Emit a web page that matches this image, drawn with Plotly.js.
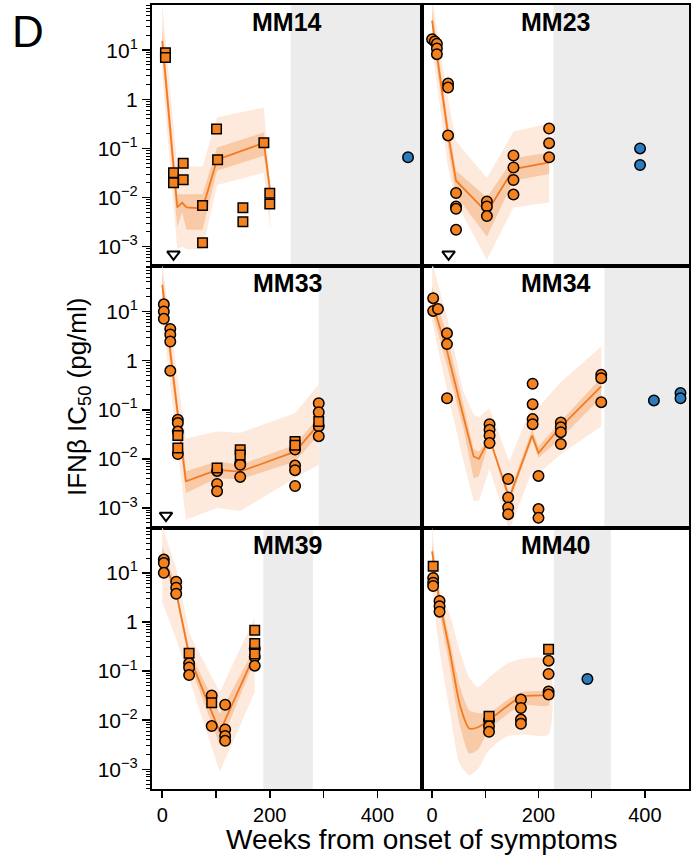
<!DOCTYPE html>
<html>
<head>
<meta charset="utf-8">
<script src="https://cdn.plot.ly/plotly-3.0.1.min.js"></script>
<style>html,body{margin:0;padding:0;background:#fff;}</style>
</head>
<body>
<div id="chart" style="width:693px;height:855px;"></div>
<script>
// IFN-beta IC50 over time, one panel per patient, log scale.
const patients = ['MM14', 'MM23', 'MM33', 'MM34', 'MM39', 'MM40'];

// ---- MM14 ----
const mm14CircleWeeks = [];
const mm14CircleIC50 = [];
const mm14SquareWeeks = [6, 6, 21, 21, 39, 39, 75, 75, 101, 103, 150, 150, 189, 200, 200];
const mm14SquareIC50 = [8.9, 7.1, 0.032, 0.020, 0.050, 0.023, 0.0069, 0.0012, 0.25, 0.059, 0.0062, 0.0032, 0.13, 0.0123, 0.0074];
const mm14LateWeeks = [457];
const mm14LateIC50 = [0.066];
const mm14FitWeeks = [0, 28, 37, 45, 75, 102, 189, 201];
const mm14FitMid = [15.5, 0.0063, 0.0079, 0.0063, 0.0060, 0.059, 0.13, 0.0126];
const mm14FitHi50 = [31.6, 0.0117, 0.0117, 0.0117, 0.0117, 0.105, 0.21, 0.0166];
const mm14FitLo50 = [7.9, 0.0025, 0.005, 0.0022, 0.0022, 0.035, 0.071, 0.0095];
const mm14FitHi95 = [89, 0.043, 0.043, 0.043, 0.043, 0.43, 0.68, 0.018];
const mm14FitLo95 = [3.2, 0.00089, 0.001, 0.00089, 0.00089, 0.018, 0.032, 0.0021];

// ---- MM23 ----
const mm23CircleWeeks = [0, 5, 9, 9, 9, 30, 30, 30, 45, 45, 45, 45, 103, 103, 103, 153, 153, 153, 153, 220, 220, 220];
const mm23CircleIC50 = [16.7, 15, 13.6, 10.8, 8.3, 2.1, 1.74, 0.184, 0.0124, 0.0066, 0.0059, 0.0022, 0.0083, 0.0066, 0.0042, 0.072, 0.041, 0.0228, 0.0115, 0.255, 0.128, 0.066];
const mm23SquareWeeks = [];
const mm23SquareIC50 = [];
const mm23LateWeeks = [391, 391];
const mm23LateIC50 = [0.1, 0.046];
const mm23FitWeeks = [0, 8, 30, 45, 103, 153, 220];
const mm23FitMid = [40, 9.7, 0.195, 0.022, 0.005, 0.038, 0.052];
const mm23FitHi50 = [71, 15.8, 0.32, 0.035, 0.01, 0.063, 0.083];
const mm23FitLo50 = [22, 6.3, 0.11, 0.011, 0.0016, 0.022, 0.03];
const mm23FitHi95 = [126, 32, 1.0, 0.14, 0.025, 0.22, 0.32];
const mm23FitLo95 = [10, 2.5, 0.04, 0.0079, 0.00054, 0.0063, 0.0079];

// ---- MM33 ----
const mm33CircleWeeks = [3, 3, 3, 15, 15, 15, 15, 29, 29, 29, 29, 102, 102, 102, 145, 145, 145, 247, 247, 247, 247, 291, 291, 291, 291];
const mm33CircleIC50 = [14, 10, 7.1, 4.4, 3.4, 2.45, 0.62, 0.0625, 0.054, 0.036, 0.0126, 0.0057, 0.0031, 0.0022, 0.0082, 0.0076, 0.0043, 0.0155, 0.0073, 0.0059, 0.0028, 0.136, 0.089, 0.046, 0.029];
const mm33SquareWeeks = [29, 29, 102, 145, 145, 247, 247, 291];
const mm33SquareIC50 = [0.030, 0.0166, 0.0065, 0.0153, 0.012, 0.0227, 0.019, 0.058];
const mm33LateWeeks = [];
const mm33LateIC50 = [];
const mm33FitWeeks = [0, 44, 102, 145, 247, 291];
const mm33FitMid = [35, 0.0035, 0.006, 0.0055, 0.014, 0.051];
const mm33FitHi50 = [63, 0.0056, 0.0089, 0.0076, 0.0195, 0.072];
const mm33FitLo50 = [20, 0.002, 0.0041, 0.0038, 0.0089, 0.031];
const mm33FitHi95 = [100, 0.026, 0.036, 0.034, 0.085, 0.33];
const mm33FitLo95 = [7.9, 0.00058, 0.001, 0.00087, 0.0041, 0.0076];

// ---- MM34 ----
const mm34CircleWeeks = [2, 2, 11, 28, 28, 28, 108, 108, 108, 108, 143, 143, 143, 143, 189, 189, 189, 189, 200, 200, 200, 242, 242, 242, 242, 318, 318, 318];
const mm34CircleIC50 = [18.7, 10.3, 11.2, 3.6, 2.17, 0.172, 0.051, 0.039, 0.030, 0.021, 0.0039, 0.00164, 0.00103, 0.00075, 0.338, 0.130, 0.0645, 0.051, 0.0045, 0.00095, 0.00063, 0.055, 0.044, 0.035, 0.020, 0.515, 0.44, 0.143];
const mm34SquareWeeks = [];
const mm34SquareIC50 = [];
const mm34LateWeeks = [417, 467, 467];
const mm34LateIC50 = [0.155, 0.22, 0.172];
const mm34FitWeeks = [0, 28, 58, 78, 88, 108, 145, 188, 200, 240, 318];
const mm34FitMid = [15.8, 1.58, 0.079, 0.0112, 0.01, 0.026, 0.0016, 0.03, 0.0132, 0.043, 0.3];
const mm34FitHi50 = [32, 3.2, 0.14, 0.0158, 0.0141, 0.028, 0.002, 0.04, 0.0178, 0.056, 0.45];
const mm34FitLo50 = [10, 0.79, 0.045, 0.004, 0.0045, 0.024, 0.00126, 0.024, 0.0105, 0.025, 0.178];
const mm34FitHi95 = [100, 7.9, 0.25, 0.079, 0.071, 0.107, 0.0089, 0.126, 0.112, 0.35, 1.95];
const mm34FitLo95 = [6.3, 0.25, 0.01, 0.0014, 0.0014, 0.0063, 0.00035, 0.0056, 0.005, 0.012, 0.046];

// ---- MM39 ----
const mm39CircleWeeks = [3, 3, 3, 26, 26, 26, 50, 50, 50, 92, 92, 117, 117, 117, 117, 172, 172, 172];
const mm39CircleIC50 = [18.6, 15.9, 10, 6.6, 5.0, 3.76, 0.144, 0.119, 0.083, 0.032, 0.0076, 0.0206, 0.0065, 0.0048, 0.0038, 0.29, 0.196, 0.129];
const mm39SquareWeeks = [50, 92, 172, 172, 172];
const mm39SquareIC50 = [0.23, 0.0226, 0.68, 0.365, 0.222];
const mm39LateWeeks = [];
const mm39LateIC50 = [];
const mm39FitWeeks = [0, 26, 51, 107, 172];
const mm39FitMid = [22, 4.0, 0.19, 0.0058, 0.22];
const mm39FitHi50 = [35, 5.2, 0.25, 0.0135, 0.3];
const mm39FitLo50 = [15.8, 3.2, 0.14, 0.0031, 0.166];
const mm39FitHi95 = [89, 12.6, 0.56, 0.037, 1.23];
const mm39FitLo95 = [2.5, 0.45, 0.063, 0.00089, 0.037];

// ---- MM40 ----
const mm40CircleWeeks = [2, 2, 2, 14, 14, 14, 107, 107, 107, 167, 167, 167, 167, 219, 219, 219, 219];
const mm40CircleIC50 = [7.9, 6.3, 5.4, 2.67, 2.1, 1.62, 0.010, 0.0075, 0.0058, 0.0264, 0.0177, 0.0103, 0.0085, 0.163, 0.0875, 0.0384, 0.0333];
const mm40SquareWeeks = [2, 107, 219];
const mm40SquareIC50 = [13.6, 0.012, 0.28];
const mm40LateWeeks = [292];
const mm40LateIC50 = [0.069];
const mm40FitWeeks = [0, 14, 33, 52, 70, 86, 107, 139, 167, 219];
const mm40FitMid = [27.5, 2.7, 0.26, 0.021, 0.0068, 0.0072, 0.01, 0.0186, 0.03, 0.032];
const mm40FitHi50 = [40, 4.0, 0.45, 0.05, 0.0158, 0.0141, 0.0141, 0.025, 0.037, 0.037];
const mm40FitLo50 = [15.8, 1.58, 0.126, 0.0079, 0.0021, 0.0025, 0.0063, 0.0126, 0.02, 0.02];
const mm40FitHi95 = [89, 4.3, 1.45, 0.26, 0.074, 0.047, 0.074, 0.138, 0.176, 0.176];
const mm40FitLo95 = [4.3, 0.26, 0.0158, 0.0013, 0.00076, 0.001, 0.00245, 0.0046, 0.0051, 0.0051];

// shaded intervals per panel (null end = to the right edge)
const shadeStartWeeks = [239, 228, 291, 324, 188, 229];
const shadeEndWeeks = [null, null, null, null, 280, 336];
// open triangles along the bottom of a panel
const markerWeeks = [21, 31, 7, null, null, null];

// axis ticks
const weekTickVals = [0, 200, 400];
const weekTickText = ['0', '200', '400'];
const ic50TickVals = [0.001, 0.01, 0.1, 1, 10];
const ic50TickText = ['10<sup>\u22123</sup>', '10<sup>\u22122</sup>', '10<sup>\u22121</sup>', '1', '10<sup>1</sup>'];

// ---- drawing ----
const FONT = 'Liberation Sans, Arial, Helvetica, sans-serif';
const ORANGE = '#f6821f';
const LINE = '#f47a1f';
const BAND50 = '#f9caa7';
const BAND95 = '#fdeadc';
const BLUE = '#2d7bbf';
const SHADE = '#ececec';
const X_RANGE = [-19, 483];
const Y_RANGE = [-3.4, 1.92];
const MARK_LEVEL = 0.0007;

const panelData = [
  [mm14CircleWeeks, mm14CircleIC50, mm14SquareWeeks, mm14SquareIC50, mm14LateWeeks, mm14LateIC50, mm14FitWeeks, mm14FitMid, mm14FitLo50, mm14FitHi50, mm14FitLo95, mm14FitHi95],
  [mm23CircleWeeks, mm23CircleIC50, mm23SquareWeeks, mm23SquareIC50, mm23LateWeeks, mm23LateIC50, mm23FitWeeks, mm23FitMid, mm23FitLo50, mm23FitHi50, mm23FitLo95, mm23FitHi95],
  [mm33CircleWeeks, mm33CircleIC50, mm33SquareWeeks, mm33SquareIC50, mm33LateWeeks, mm33LateIC50, mm33FitWeeks, mm33FitMid, mm33FitLo50, mm33FitHi50, mm33FitLo95, mm33FitHi95],
  [mm34CircleWeeks, mm34CircleIC50, mm34SquareWeeks, mm34SquareIC50, mm34LateWeeks, mm34LateIC50, mm34FitWeeks, mm34FitMid, mm34FitLo50, mm34FitHi50, mm34FitLo95, mm34FitHi95],
  [mm39CircleWeeks, mm39CircleIC50, mm39SquareWeeks, mm39SquareIC50, mm39LateWeeks, mm39LateIC50, mm39FitWeeks, mm39FitMid, mm39FitLo50, mm39FitHi50, mm39FitLo95, mm39FitHi95],
  [mm40CircleWeeks, mm40CircleIC50, mm40SquareWeeks, mm40SquareIC50, mm40LateWeeks, mm40LateIC50, mm40FitWeeks, mm40FitMid, mm40FitLo50, mm40FitHi50, mm40FitLo95, mm40FitHi95]
];
const smoothPanels = ['MM40'];

const traces = [];
const shapes = [];
const annotations = [];
const layout = {
  width: 693, height: 855,
  margin: {l: 152, r: 4, t: 5, b: 66},
  paper_bgcolor: '#fff', plot_bgcolor: 'rgba(0,0,0,0)',
  showlegend: false,
  font: {family: FONT, color: '#000', size: 21}
};

const colDomains = [[0, 0.5028], [0.5028, 1]];
const rowDomains = [[2 / 3, 1], [1 / 3, 2 / 3], [0, 1 / 3]];

function bandTrace(weeks, lo, hi, color, xa, ya, shape) {
  return {
    x: weeks.concat(weeks.slice().reverse()),
    y: hi.concat(lo.slice().reverse()),
    xaxis: xa, yaxis: ya,
    mode: 'lines', fill: 'toself', fillcolor: color,
    line: {width: 0, color: color, shape: shape, smoothing: 0.6},
    hoverinfo: 'skip'
  };
}

patients.forEach((name, i) => {
  const row = Math.floor(i / 2), col = i % 2;
  const sfx = i === 0 ? '' : String(i + 1);
  const xa = 'x' + sfx, ya = 'y' + sfx;
  const [cW, cV, sW, sV, lW, lV, fW, fMid, fLo50, fHi50, fLo95, fHi95] = panelData[i];
  const shape = smoothPanels.includes(name) ? 'spline' : 'linear';
  const bottom = row === 2;

  const xax = {
    domain: colDomains[col], anchor: ya, range: X_RANGE,
    showline: true, mirror: true, linewidth: 2, linecolor: '#000',
    showgrid: false, zeroline: false,
    showticklabels: bottom, ticks: bottom ? 'outside' : ''
  };
  if (bottom) {
    Object.assign(xax, {
      tickmode: 'array', tickvals: weekTickVals, ticktext: weekTickText,
      ticklen: 7, tickwidth: 1.5, tickcolor: '#000', tickfont: {size: 20, family: FONT},
      minor: {ticks: 'outside', ticklen: 7, tickwidth: 1.5, tickcolor: '#000', tick0: 0, dtick: 100, showgrid: false}
    });
  }
  layout['xaxis' + sfx] = xax;

  const yax = {
    domain: rowDomains[row], anchor: xa, type: 'log', range: Y_RANGE,
    showline: true, mirror: true, linewidth: 2, linecolor: '#000',
    showgrid: false, zeroline: false,
    showticklabels: col === 0, ticks: col === 0 ? 'outside' : ''
  };
  if (col === 0) {
    Object.assign(yax, {
      tickmode: 'array', tickvals: ic50TickVals, ticktext: ic50TickText,
      ticklen: 8, tickwidth: 1.5, tickcolor: '#000', tickfont: {size: 21, family: FONT},
      minor: {ticks: 'outside', ticklen: 4.5, tickwidth: 1, tickcolor: '#000', dtick: 'D1', showgrid: false}
    });
  }
  layout['yaxis' + sfx] = yax;

  // shaded interval
  shapes.push({
    type: 'rect', xref: xa, yref: ya + ' domain', layer: 'below',
    x0: shadeStartWeeks[i], x1: shadeEndWeeks[i] === null ? X_RANGE[1] : shadeEndWeeks[i],
    y0: 0, y1: 1, fillcolor: SHADE, line: {width: 0}
  });

  // fit with credible bands
  traces.push(bandTrace(fW, fLo95, fHi95, BAND95, xa, ya, shape));
  traces.push(bandTrace(fW, fLo50, fHi50, BAND50, xa, ya, shape));
  traces.push({x: fW, y: fMid, xaxis: xa, yaxis: ya, mode: 'lines',
    line: {color: LINE, width: 1.8, shape: shape, smoothing: 0.6}, hoverinfo: 'skip'});

  // measurements
  const mline = {color: '#000', width: 1.5};
  if (cW.length) traces.push({x: cW, y: cV, xaxis: xa, yaxis: ya, mode: 'markers',
    marker: {symbol: 'circle', size: 10.5, color: ORANGE, line: mline}});
  if (sW.length) traces.push({x: sW, y: sV, xaxis: xa, yaxis: ya, mode: 'markers',
    marker: {symbol: 'square', size: 9.5, color: ORANGE, line: mline}});
  if (lW.length) traces.push({x: lW, y: lV, xaxis: xa, yaxis: ya, mode: 'markers',
    marker: {symbol: 'circle', size: 10.5, color: BLUE, line: mline}});
  if (markerWeeks[i] !== null) traces.push({x: [markerWeeks[i]], y: [MARK_LEVEL], xaxis: xa, yaxis: ya,
    mode: 'markers', marker: {symbol: 'triangle-down-open', size: 11, color: '#000', line: {width: 2, color: '#000'}},
    cliponaxis: false});

  annotations.push({
    text: '<b>' + name + '</b>', xref: xa + ' domain', yref: ya + ' domain',
    x: 0.5, y: 1 - 17 / 261, xanchor: 'center', yanchor: 'middle', showarrow: false,
    font: {size: 25, family: FONT, color: '#000'}
  });
});

annotations.push({
  text: 'IFN\u03b2 IC<sub>50</sub> (pg/ml)', xref: 'paper', yref: 'paper',
  x: (78 - 152) / 537, y: 0.5, xanchor: 'center', yanchor: 'middle', textangle: -90,
  showarrow: false, font: {size: 26, family: FONT, color: '#000'}
});
annotations.push({
  text: 'Weeks from onset of symptoms', xref: 'paper', yref: 'paper',
  x: (421.5 - 152) / 537, y: (789 - 839) / 784, xanchor: 'center', yanchor: 'middle',
  showarrow: false, font: {size: 28, family: FONT, color: '#000'}
});
annotations.push({
  text: 'D', xref: 'paper', yref: 'paper',
  x: (10 - 152) / 537, y: (789 - 31) / 784, xanchor: 'left', yanchor: 'middle',
  showarrow: false, font: {size: 44, family: FONT, color: '#000'}
});

layout.shapes = shapes;
layout.annotations = annotations;

Plotly.newPlot('chart', traces, layout, {displayModeBar: false, staticPlot: true});
</script>
</body>
</html>
